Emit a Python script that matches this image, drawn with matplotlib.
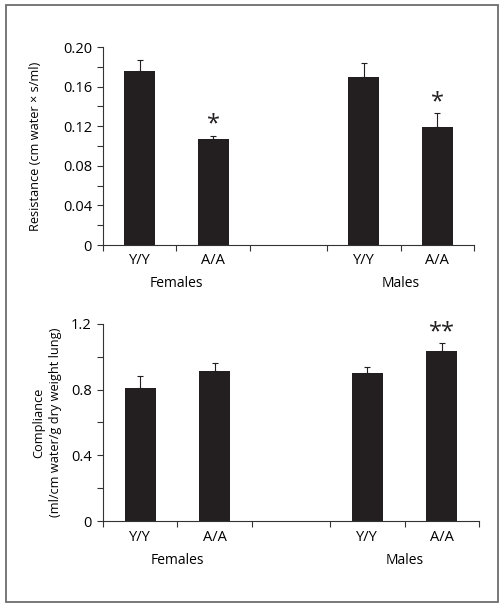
import numpy as np
import matplotlib
matplotlib.use("Agg")
import matplotlib.pyplot as plt
from matplotlib.patches import Rectangle
from matplotlib.ticker import MultipleLocator, FuncFormatter

plt.rcParams['font.family'] = ['Open Sans', 'DejaVu Sans']
plt.rcParams['font.size'] = 10

groups = ["Females", "Males"]
genotypes = ["Y/Y", "A/A", "Y/Y", "A/A"]
resistance = [0.176, 0.107, 0.170, 0.119]
resistance_err = [0.011, 0.0035, 0.0135, 0.014]
resistance_sig = ["", "*", "", "*"]
compliance = [0.81, 0.91, 0.90, 1.035]
compliance_err = [0.072, 0.052, 0.036, 0.046]
compliance_sig = ["", "", "", "**"]

bar_x = [0.5, 1.5, 3.55, 4.55]
bound_x = [0, 1, 2, 3.05, 4.05, 5.05]
group_x = [1.0, 4.05]
bar_col = "#231f20"
axis_col = "#333333"

fig = plt.figure(figsize=(5.04, 6.09), dpi=100)
fig.patches.append(Rectangle((0.012, 0.012), 0.976, 0.979, transform=fig.transFigure,
                             fill=False, edgecolor="#6d6d6d", linewidth=1.3))


def make_fmt(decimals):
    def f(v, pos):
        if abs(v) < 1e-9:
            return "0"
        return f"{v:.{decimals}f}"
    return FuncFormatter(f)


def panel(rect, vals, errs, sig, ymax, major, decimals, ylabel, sig_off):
    ax = fig.add_axes(rect)
    ax.bar(bar_x, vals, width=0.42, color=bar_col, zorder=2)
    ax.errorbar(bar_x, vals, yerr=[np.zeros(len(errs)), errs], fmt='none',
                ecolor=bar_col, elinewidth=0.8, capsize=2.3, capthick=0.8, zorder=1)
    for x, v, e, s in zip(bar_x, vals, errs, sig):
        if s:
            ax.annotate(s, (x, v + e), xytext=(0, sig_off), textcoords='offset points',
                        ha='center', va='center', fontsize=17, color=bar_col)
    ax.set_xlim(bound_x[0], bound_x[-1])
    ax.set_ylim(0, ymax)
    for sp in ['top', 'right']:
        ax.spines[sp].set_visible(False)
    for sp in ['left', 'bottom']:
        ax.spines[sp].set_color(axis_col)
        ax.spines[sp].set_linewidth(0.8)
    ax.set_xticks(bound_x)
    ax.set_xticklabels([])
    ax.set_xticks(bar_x, minor=True)
    ax.set_xticklabels(genotypes, minor=True, fontsize=10.5)
    ax.tick_params(axis='x', which='major', direction='out', length=4, width=0.8, color=axis_col)
    ax.tick_params(axis='x', which='minor', length=0, pad=6)
    ax.yaxis.set_major_locator(MultipleLocator(major))
    ax.yaxis.set_minor_locator(MultipleLocator(major / 2))
    ax.yaxis.set_major_formatter(make_fmt(decimals))
    ax.tick_params(axis='y', which='both', direction='out', length=4.5, width=0.8,
                   color=axis_col, pad=3.5, labelsize=10.5)
    for gx, g in zip(group_x, groups):
        ax.annotate(g, (gx, 0), xycoords=('data', 'axes fraction'), xytext=(0, -28),
                    textcoords='offset points', ha='center', va='center', fontsize=10)
    ax.set_ylabel(ylabel, fontsize=9.2, linespacing=1.35)
    return ax


ax1 = panel([0.2044, 0.5977, 0.7361, 0.3251], resistance, resistance_err, resistance_sig,
            0.20, 0.04, 2, "Resistance (cm water \u00d7 s/ml)", 8)
ax1.yaxis.set_label_coords(-0.165, 0.5)
ax2 = panel([0.2044, 0.1440, 0.7460, 0.3245], compliance, compliance_err, compliance_sig,
            1.2, 0.4, 1, "Compliance\n(ml/cm water/g dry weight lung)", 7.5)
ax2.yaxis.set_label_coords(-0.11, 0.5)

fig.savefig("out.png", dpi=100)
